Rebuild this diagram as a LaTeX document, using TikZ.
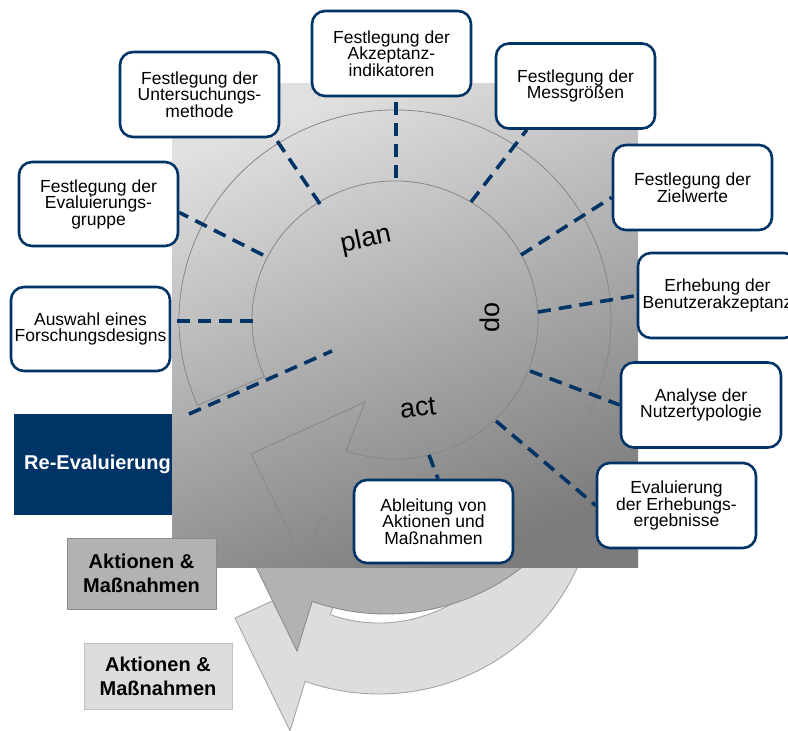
\documentclass[tikz,border=0pt]{standalone}
\usepackage{fontspec}
\setmainfont{Liberation Sans}
\usetikzlibrary{calc}
\definecolor{navy}{RGB}{0,51,102}
\definecolor{medfill}{RGB}{178,178,178}
\definecolor{medline}{RGB}{140,140,140}
\definecolor{lightfill}{RGB}{221,221,221}
\definecolor{lightline}{RGB}{165,165,165}
\definecolor{sqtop}{RGB}{224,224,224}
\definecolor{sqbot}{RGB}{124,124,124}
\definecolor{ringline}{RGB}{135,135,135}
\pgfdeclarelayer{bg}
\pgfdeclarelayer{lines}
\pgfsetlayers{bg,lines,main}
\begin{document}
\begin{tikzpicture}[x=1pt,y=-1pt,
  stepbox/.style={draw=navy, line width=2.6pt, fill=white, rounded corners=13pt,
    minimum width=159pt, minimum height=85pt, align=center, inner sep=0pt,
    font=\fontsize{17.5}{16.5}\selectfont},
  conn/.style={draw=navy, line width=3.6pt, dash pattern=on 13pt off 8pt},
  phase/.style={font=\fontsize{27}{27}\selectfont, inner sep=0pt},
  aktbox/.style={font=\bfseries\fontsize{20}{24}\selectfont, align=center, inner sep=0pt, line width=1pt},
  ringp/.style={insert path={(197.7,405.4) arc[start angle=-204,end angle=110,x radius=216,y radius=210]
     -- (306,567) -- (251,454) -- (365,402) -- (346.1,450.6)
     arc[start angle=110,end angle=-204,x radius=143,y radius=139] -- cycle}}
]
\useasboundingbox (0,0) rectangle (788,731);

% step boxes
\node[stepbox] (U) at (199.5,94.5) {Festlegung der\\Untersuchungs-\\methode};
\node[stepbox] (A) at (391.5,53.5) {Festlegung der\\Akzeptanz-\\indikatoren};
\node[stepbox] (M) at (575.5,86) {Festlegung der\\Messgrößen};
\node[stepbox] (Z) at (692.5,187.5) {Festlegung der\\Zielwerte};
\node[stepbox] (E) at (717.5,295.5) {Erhebung der\\Benutzerakzeptanz};
\node[stepbox, minimum width=160pt] (N) at (701,405) {Analyse der\\Nutzertypologie};
\node[stepbox] (R) at (676.5,505.5) {Evaluierung\\der Erhebungs-\\ergebnisse};
\node[stepbox, minimum height=83pt] (L) at (433.5,521.5) {Ableitung von\\Aktionen und\\Maßnahmen};
\node[stepbox, minimum height=84pt] (G) at (98.5,204) {Festlegung der\\Evaluierungs-\\gruppe};
\node[stepbox, minimum height=84pt] (F) at (90.5,329) {Auswahl eines\\Forschungsdesigns};

% phase labels
\node[phase, rotate=12] (plan) at (366,240) {plan};
\node[phase, rotate=90] (do) at (490,317) {do};
\node[phase, rotate=7] (act) at (418,408) {act};

% points on the inner circle
\coordinate (eU) at (320,204);
\coordinate (eA) at (396,178);
\coordinate (eM) at (471,202);
\coordinate (eZ) at (521,255);
\coordinate (eE) at (538,312);
\coordinate (eN) at (530,371);
\coordinate (eR) at (496,421);
\coordinate (eL) at (429,455);
\coordinate (eG) at (263,255);
\coordinate (eF) at (253,321);
\coordinate (r1) at (189,414);
\coordinate (r2) at (332,351);

\begin{pgfonlayer}{bg}
  \begin{scope}
    \clip (172,0) rectangle (788,731);
    % bottom (light) arrow
    \begin{scope}[shift={(-16,164)}]
      \draw[fill=lightfill, draw=lightline, line width=0.9pt, ringp];
    \end{scope}
    % middle arrow
    \begin{scope}[shift={(-9,84)}]
      \draw[fill=medfill, draw=medline, line width=0.9pt, ringp];
    \end{scope}
  \end{scope}
  \node[aktbox, fill=lightfill, draw=lightline!70, minimum width=148pt, minimum height=66pt] (akt2) at (158,676) {Aktionen \&\\Maßnahmen};
  % Re-Evaluierung
  \node[fill=navy, text=white, anchor=west, minimum height=101pt, minimum width=166pt,
        inner xsep=10pt, inner ysep=0pt, align=left, font=\bfseries\fontsize{20}{24}\selectfont] (reeval) at (14,464.5) {Re-Evaluierung};
  % square
  \shade[top color=sqtop, bottom color=sqbot, shading angle=22] (172,83) rectangle (638,567);
  % top ring outline
  \draw[draw=ringline, line width=0.8pt, ringp];
  % middle box (on top of the square)
  \node[aktbox, fill=medfill, draw=medline, minimum width=149pt, minimum height=71pt] (akt1) at (141.5,573.5) {Aktionen \&\\Maßnahmen};
\end{pgfonlayer}

\begin{pgfonlayer}{lines}
  \draw[conn] (eU) -- (U.-30);
  \draw[conn] (eA) -- (eA |- A.south);
  \draw[conn] (eM) -- (M.-138);
  \draw[conn] (eZ) -- (Z.187);
  \draw[conn] (eE) -- (E.west);
  \draw[conn] (eN) -- (N.west);
  \draw[conn] (eR) -- (R.west);
  \draw[conn] (eL) -- (L.84);
  \draw[conn] (eG) -- (G.-6);
  \draw[conn] (eF) -- (eF -| F.east);
  \draw[conn] (r1) -- (r2);
\end{pgfonlayer}
\end{tikzpicture}
\end{document}
